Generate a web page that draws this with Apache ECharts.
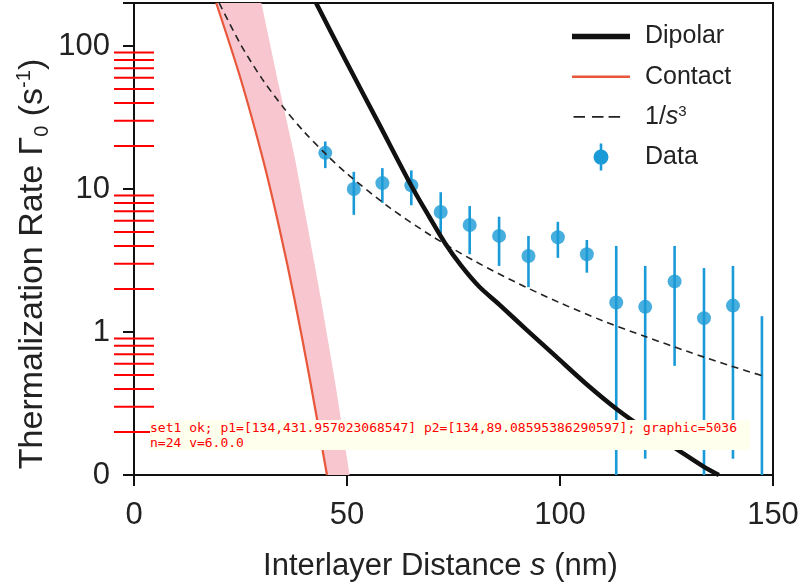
<!DOCTYPE html>
<html>
<head>
<meta charset="utf-8">
<script src="https://cdn.jsdelivr.net/npm/echarts@6/dist/echarts.min.js"></script>
<style>
html,body{margin:0;padding:0;background:#fff;}
#chart{width:801px;height:588px;}
#dbg{position:absolute;left:150px;top:420px;font:13px monospace;color:red;background:#ffe;max-width:600px;}
</style>
</head>
<body>
<div id="chart"></div>
<div id="dbg"></div>
<script>
const xTicks = [0, 50, 100, 150];
const yMinorTicks = [0.2,0.3,0.4,0.5,0.6,0.7,0.8,0.9,2,3,4,5,6,7,8,9,20,30,40,50,60,70,80,90];
const dataS    = [44.9, 51.6, 58.3, 65.1, 72.0, 78.8, 85.7, 92.6, 99.5, 106.3, 113.2, 120.0, 126.9, 133.8, 140.6, 147.4];
const dataRate = [17.9, 10.0, 11.0, 10.6, 6.9, 5.6, 4.7, 3.4, 4.6, 3.5, 1.61, 1.50, 2.26, 1.25, 1.53, null];
const errLow   = [14.0, 6.6, 8.0, 7.7, 4.9, 3.5, 2.9, 2.06, 3.3, 2.6, 0.1, 0.13, 0.58, 0.1, 0.13, 0.1];
const errHigh  = [21.5, 13.2, 14.0, 13.5, 9.5, 7.6, 6.4, 4.7, 5.9, 4.4, 4.0, 2.9, 4.0, 2.8, 2.9, 1.29];
const dipolarS    = [42.75, 49.6, 57.6, 65.1, 69.3, 73.1, 76.8, 81.0, 85.7, 92.1, 99.1, 106.1, 113.2, 120.2, 127.2, 133.8, 137.3];
const dipolarRate = [200, 80.2, 28.2, 10.55, 6.40, 4.14, 2.91, 2.08, 1.56, 1.04, 0.672, 0.435, 0.291, 0.207, 0.153, 0.114, 0.100];
const contactS    = [19.3, 25.1, 30.3, 34.2, 37.7, 41.3, 45.3];
const contactRate = [200, 58.1, 16.0, 5.19, 1.68, 0.464, 0.1];
const bandS    = [29.9, 33.7, 37.7, 40.9, 43.9, 47.3, 50.6];
const bandRate = [200, 58.1, 16.8, 5.19, 1.68, 0.428, 0.1];
const invS    = [20, 25, 30, 35, 40, 45, 50, 60, 70, 80, 90, 100, 110, 120, 130, 140, 148];
const invRate = [200, 103, 59.4, 37.4, 25.0, 17.6, 12.8, 7.42, 4.67, 3.13, 2.20, 1.60, 1.20, 0.93, 0.73, 0.58, 0.49];

const FONT = "'Liberation Sans', Arial, Helvetica, sans-serif";
const TXT = '#222';
const AX = '#111';
const BLUE = '#1a9ad6';
const RED = '#e8573a';
const PINK = '#f7c6cf';

const speck = 'M0,0h0.01v0.01h-0.01zM68,27h-0.01v-0.01h0.01z';
const iconDipolar = 'path://' + speck + 'M0,10.7h58v5.6h-58z';
const iconContact = 'path://' + speck + 'M0,12.2h58v2.6h-58z';
const iconDash = 'path://' + speck + 'M1.5,12.6h11.5v1.8h-11.5zM20,12.6h11.5v1.8h-11.5zM36.6,12.6h11.5v1.8h-11.5z';
const iconData = 'path://' + speck + 'M21.5,13.5a7.5,7.5 0 1,1 15,0a7.5,7.5 0 1,1 -15,0zM27.7,0h2.6v27h-2.6z';

const pair = (xs, ys) => xs.map((x, i) => [x, ys[i]]);
const bandVerts = pair(contactS, contactRate).concat(pair(bandS, bandRate).reverse());
let msg = '';
window.onerror = function (m) { msg += ' WINERR ' + m; document.getElementById('dbg').textContent = msg; };

const chart = echarts.init(document.getElementById('chart'), null, {renderer: 'canvas'});
const option = {
  animation: false,
  backgroundColor: '#fff',
  textStyle: {fontFamily: FONT, color: TXT},
  grid: {left: 134, right: 28, top: 3, bottom: 113, show: true, borderColor: AX, borderWidth: 2, backgroundColor: 'transparent', containLabel: false, outerBoundsMode: 'none'},
  legend: {
    orient: 'vertical', left: 572, top: 23, padding: 0,
    itemWidth: 68, itemHeight: 27, itemGap: 13.2, selectedMode: false, itemStyle: {borderWidth: 0},
    textStyle: {fontFamily: FONT, fontSize: 25, color: TXT,
      rich: {i: {fontStyle: 'italic', fontSize: 25, fontFamily: FONT, color: TXT},
             sup: {fontSize: 15, fontFamily: FONT, color: TXT, verticalAlign: 'top', lineHeight: 14}}},
    formatter: name => name === '1/s3' ? '1/{i|s}{sup|3}' : name,
    data: [
      {name: 'Dipolar', icon: iconDipolar, itemStyle: {color: '#111'}},
      {name: 'Contact', icon: iconContact, itemStyle: {color: RED}},
      {name: '1/s3', icon: iconDash, itemStyle: {color: '#222'}},
      {name: 'Data', icon: iconData, itemStyle: {color: BLUE}}
    ]
  },
  xAxis: {
    type: 'value', min: 0, max: 150, interval: 50,
    axisLine: {show: true, lineStyle: {color: AX, width: 2}},
    axisTick: {show: true, length: 11, inside: false, lineStyle: {color: AX, width: 2}},
    axisLabel: {fontSize: 31, color: TXT, fontFamily: FONT, margin: 25},
    splitLine: {show: false},
    name: 'Interlayer Distance {i|s} (nm)', nameLocation: 'middle', nameGap: 76, nameMoveOverlap: false,
    nameTextStyle: {fontSize: 31, color: TXT, fontFamily: FONT, padding: [0, 26, 0, 0],
      rich: {i: {fontStyle: 'italic', fontSize: 31, fontFamily: FONT, color: TXT}}}
  },
  yAxis: {
    type: 'log', logBase: 10, min: 0.1, max: 200,
    axisLine: {show: true, lineStyle: {color: AX, width: 2}},
    axisTick: {show: true, length: 11, inside: false, lineStyle: {color: AX, width: 2}},
    axisLabel: {fontSize: 31, color: TXT, fontFamily: FONT, margin: 24,
      formatter: v => (v < 0.5 ? '0' : (v > 150 ? '' : String(Math.round(v))))},
    splitLine: {show: false},
    name: 'Thermalization Rate Γ{sub|0} ({n|s}{sup|-1})', nameLocation: 'middle', nameGap: 82, nameRotate: 90, nameMoveOverlap: false,
    nameTextStyle: {fontSize: 34, color: TXT, fontFamily: FONT, lineHeight: 38, padding: [0, 50, 0, 0],
      rich: {
        sub: {fontSize: 20, lineHeight: 20, verticalAlign: 'bottom', fontFamily: FONT, color: TXT},
        sup: {fontSize: 20, lineHeight: 20, verticalAlign: 'top', fontFamily: FONT, color: TXT},
        n: {fontSize: 34, lineHeight: 38, fontFamily: FONT, color: TXT}
      }}
  },
  series: [
    {name: 'band', type: 'custom', clip: true, silent: true, z: 1, data: bandVerts, encode: {x: 0, y: 1},
      renderItem: function (params, api) {
        if (params.dataIndex !== 0) return null;
        return {type: 'polygon', shape: {points: bandVerts.map(p => api.coord(p))}, style: {fill: PINK}};
      }},
    {name: 'Contact', type: 'line', data: pair(contactS, contactRate), showSymbol: false, symbol: 'none', smooth: 0.3, z: 2,
      lineStyle: {color: RED, width: 2.2}, itemStyle: {color: RED}},
    {name: 'Data', type: 'custom', clip: true, z: 3, data: dataS.map((s, i) => [s, errLow[i], errHigh[i]]), encode: {x: 0, y: [1, 2]},
      renderItem: function (params, api) {
        const a = api.coord([api.value(0), api.value(1)]);
        const b = api.coord([api.value(0), api.value(2)]);
        return {type: 'line', shape: {x1: a[0], y1: a[1], x2: b[0], y2: b[1]}, style: {stroke: BLUE, lineWidth: 2.6}};
      }, itemStyle: {color: BLUE}},
    {name: 'Data', type: 'scatter', z: 4, data: pair(dataS, dataRate).filter(p => p[1] !== null), symbol: 'circle', symbolSize: 14, itemStyle: {color: BLUE}},
    {name: '1/s3', type: 'line', data: pair(invS, invRate), showSymbol: false, symbol: 'none', smooth: 0.3, z: 5,
      lineStyle: {color: '#222', width: 1.6, type: [7, 5]}, itemStyle: {color: '#222'}},
    {name: 'Dipolar', type: 'line', data: pair(dipolarS, dipolarRate), showSymbol: false, symbol: 'none', smooth: 0.3, z: 6,
      lineStyle: {color: '#111', width: 4.5}, itemStyle: {color: '#111'}}
  ]
};
try {
  chart.setOption(option);
  msg += 'set1 ok; ';
  const p1 = chart.convertToPixel({gridIndex: 0}, [0, 0.2]);
  const p2 = chart.convertToPixel({gridIndex: 0}, [0, 50]);
  msg += 'p1=' + JSON.stringify(p1) + ' p2=' + JSON.stringify(p2) + '; ';
  const g = yMinorTicks.map(v => {
    const p = chart.convertToPixel({gridIndex: 0}, [0, v]);
    return {type: 'line', z: 100, shape: {x1: p[0] - 20, y1: p[1], x2: p[0] + 20, y2: p[1]}, style: {stroke: 'red', lineWidth: 2}};
  });
  chart.setOption({graphic: {elements: g}});
  const go = chart.getOption().graphic;
  msg += 'graphic=' + (go ? JSON.stringify(go).length : 'none') + ' n=' + g.length + ' v=' + echarts.version;
} catch (e) { msg += 'ERR ' + e.message; }
document.getElementById('dbg').textContent = msg;
</script>
</body>
</html>
